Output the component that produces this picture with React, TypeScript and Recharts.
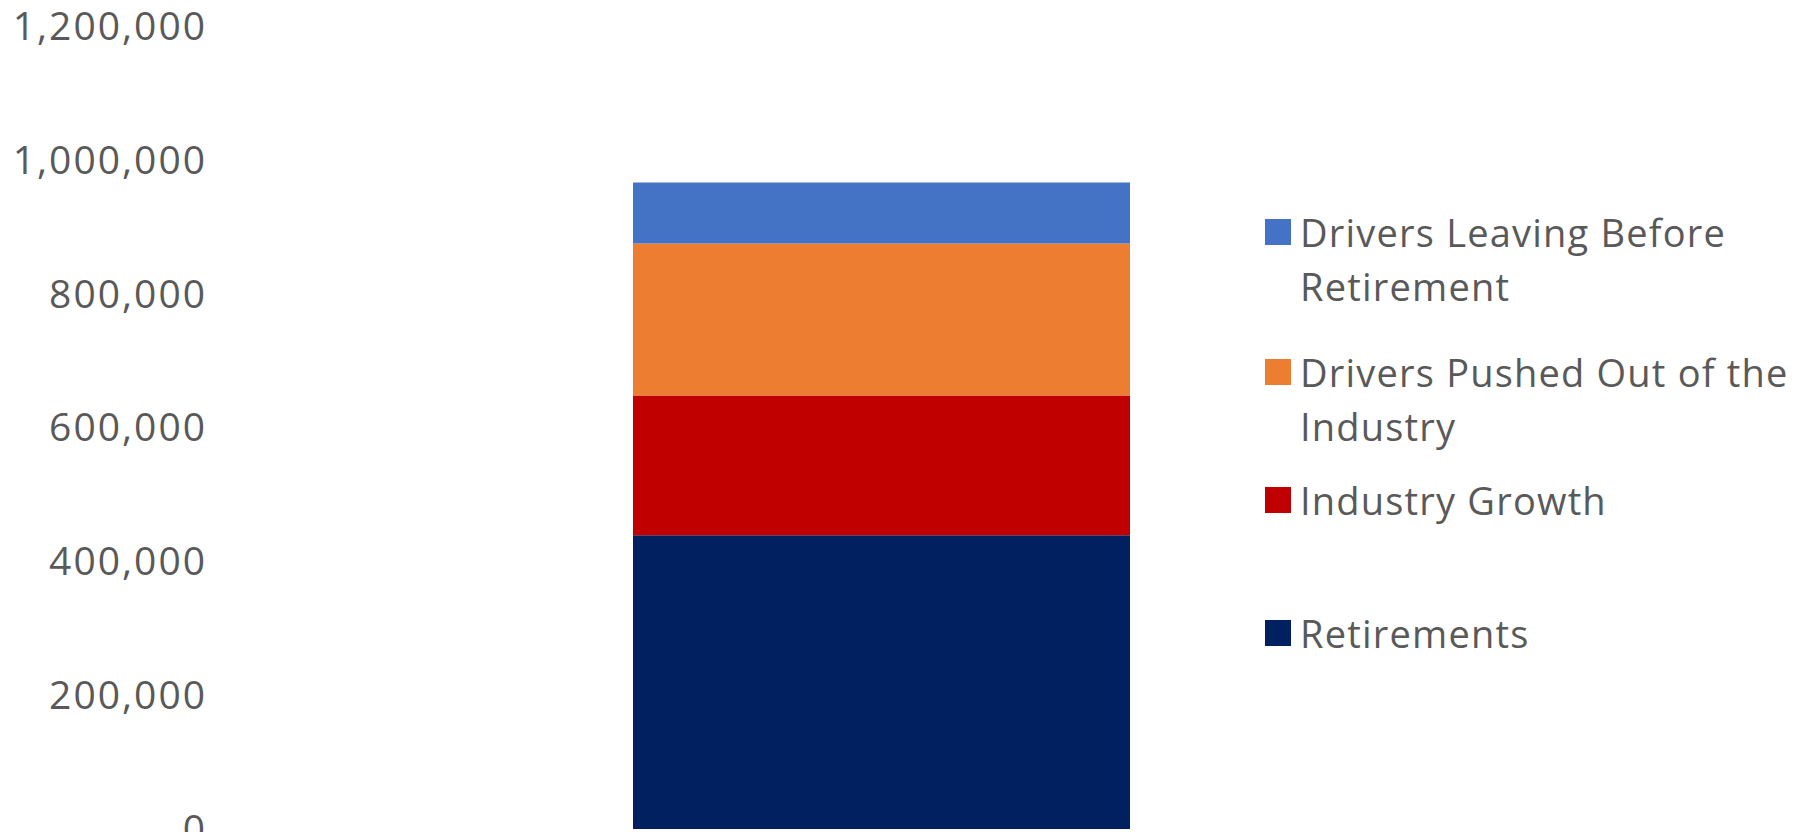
import React from 'react';
import { BarChart, Bar, XAxis, YAxis, Legend } from 'recharts';

// one stacked column
const categories = ['Total'];
const retirements = [439000];
const industryGrowth = [209000];
const pushedOut = [227000];
const leavingEarly = [91000];

const yTicks = [0, 200000, 400000, 600000, 800000, 1000000, 1200000];

const seriesNames = [
  'Retirements',
  'Industry Growth',
  'Drivers Pushed Out of the Industry',
  'Drivers Leaving Before Retirement',
];
const seriesKeys = ['retirements', 'growth', 'pushed', 'leaving'];
const colors = ['#002060', '#C00000', '#ED7D31', '#4472C4'];

const data = categories.map((c, i) => ({
  name: c,
  retirements: retirements[i],
  growth: industryGrowth[i],
  pushed: pushedOut[i],
  leaving: leavingEarly[i],
}));

const TEXT = '#595959';
const FONT = '"Open Sans", sans-serif';

// legend entries are listed top to bottom in reverse stack order, like Excel
const legendTops = [205, 345, 473, 606];

const LegendBox = (props: any) => {
  const items = (props.payload || [])
    .slice()
    .sort((a: any, b: any) => seriesNames.indexOf(b.value) - seriesNames.indexOf(a.value));
  return (
    <div style={{ position: 'relative', width: 560, height: 700, fontFamily: FONT }}>
      {items.map((entry: any, i: number) => (
        <div
          key={`legend-${i}`}
          style={{ position: 'absolute', left: 0, top: legendTops[i], width: 560 }}
        >
          <div
            style={{
              position: 'absolute',
              left: 8,
              top: 14,
              width: 26,
              height: 26,
              background: entry.color,
            }}
          />
          <div
            style={{
              position: 'absolute',
              left: 43,
              top: 0,
              width: 510,
              fontSize: 38,
              lineHeight: '54px',
              letterSpacing: 1.2,
              color: TEXT,
            }}
          >
            {entry.value}
          </div>
        </div>
      ))}
    </div>
  );
};

export default function App() {
  return (
    <div
      style={{
        position: 'absolute',
        left: 0,
        top: 0,
        width: 1817,
        height: 832,
        background: '#ffffff',
        overflow: 'hidden',
      }}
    >
      <BarChart
        width={1817}
        height={832}
        data={data}
        margin={{ top: 26, right: 0, bottom: 3, left: 0 }}
        barSize={497}
      >
        <XAxis dataKey="name" hide padding={{ left: 294, right: 0 }} />
        <YAxis
          type="number"
          domain={[0, 1200000]}
          ticks={yTicks}
          interval={0}
          width={211}
          axisLine={false}
          tickLine={false}
          tickSize={0}
          tickMargin={4}
          tick={{ fill: TEXT, fontSize: 39, fontFamily: FONT, letterSpacing: 2 }}
          tickFormatter={(v: number) => v.toLocaleString('en-US')}
        />
        <Legend
          layout="vertical"
          align="right"
          verticalAlign="top"
          wrapperStyle={{ left: 1257, top: 0, width: 560 }}
          content={<LegendBox />}
        />
        {seriesKeys.map((k, i) => (
          <Bar
            key={k}
            dataKey={k}
            name={seriesNames[i]}
            stackId="a"
            fill={colors[i]}
            isAnimationActive={false}
          />
        ))}
      </BarChart>
    </div>
  );
}
